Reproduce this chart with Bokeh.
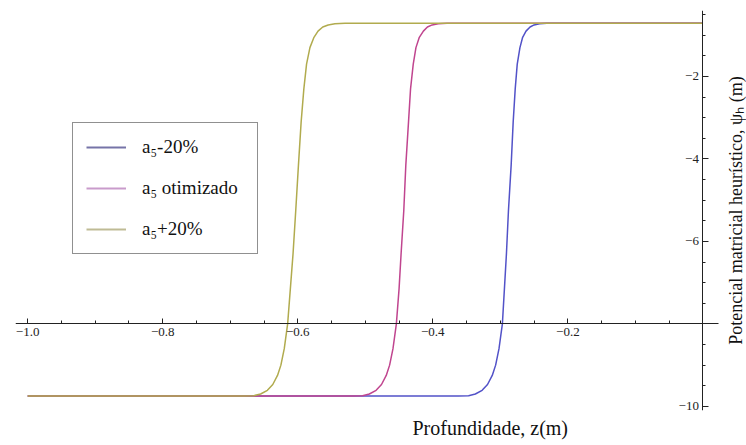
from bokeh.embed import file_html
from bokeh.resources import INLINE
from bokeh.plotting import figure
from bokeh.models import (Range1d, LinearAxis, FixedTicker, CustomJSTickFormatter,
                          Legend, LegendItem, ColumnDataSource, Title)

# Heuristic matric potential (m) versus depth z (m) for three values of a5
z_minus = [-1.0, -0.362, -0.347, -0.337, -0.327, -0.319, -0.312, -0.307, -0.302, -0.297,
           -0.294, -0.291, -0.288, -0.284, -0.281, -0.278, -0.275, -0.271, -0.267, -0.262,
           -0.256, -0.250, -0.242, -0.231, 0.0]
psi_minus = [-9.75, -9.75, -9.74, -9.70, -9.61, -9.47, -9.25, -9.00, -8.60, -8.00,
             -7.15, -6.30, -5.25, -4.15, -3.10, -2.30, -1.70, -1.30, -1.05, -0.90,
             -0.80, -0.75, -0.72, -0.71, -0.71]

z_opt = [-1.0, -0.519, -0.504, -0.494, -0.484, -0.476, -0.469, -0.464, -0.459, -0.454,
         -0.450, -0.447, -0.443, -0.440, -0.436, -0.433, -0.429, -0.425, -0.420, -0.414,
         -0.408, -0.401, -0.392, -0.379, 0.0]
psi_opt = [-9.75, -9.75, -9.74, -9.70, -9.61, -9.47, -9.25, -9.00, -8.60, -8.00,
           -7.15, -6.30, -5.25, -4.15, -3.10, -2.30, -1.70, -1.30, -1.05, -0.90,
           -0.80, -0.75, -0.72, -0.71, -0.71]

z_plus = [-1.0, -0.680, -0.665, -0.655, -0.645, -0.637, -0.630, -0.625, -0.620, -0.615,
          -0.611, -0.607, -0.603, -0.599, -0.595, -0.591, -0.587, -0.582, -0.576, -0.570,
          -0.563, -0.555, -0.545, -0.530, 0.0]
psi_plus = [-9.75, -9.75, -9.74, -9.70, -9.61, -9.47, -9.25, -9.00, -8.60, -8.00,
            -7.15, -6.30, -5.25, -4.15, -3.10, -2.30, -1.70, -1.30, -1.05, -0.90,
            -0.80, -0.75, -0.72, -0.71, -0.71]

series_labels = ["a₅-20%", "a₅ otimizado", "a₅+20%"]

x_major = [-1.0, -0.8, -0.6, -0.4, -0.2, 0.0]
x_minor = [round(-1.0 + 0.05 * k, 2) for k in range(21)]
y_major = [-10, -8, -6, -4, -2]
y_minor = [round(-10.0 + 0.5 * k, 1) for k in range(20)]

curve_colors = ["#5252c8", "#c0458f", "#b1ab4e"]
legend_colors = ["#7674a8", "#c99bcb", "#bfbb95"]
serif = "Times New Roman"

# The frame reaches the right edge so the vertical title can sit inside it;
# the horizontal axis itself stops just past z = 0.
p = figure(width=746, height=445, output_backend="svg", toolbar_location=None,
           x_range=Range1d(-1.018, 0.0645), y_range=Range1d(-10.1, -0.4),
           x_axis_location=None, y_axis_location=None,
           min_border_left=15, min_border_right=0, min_border_top=10, min_border_bottom=35)
p.outline_line_color = None
p.background_fill_color = "white"
p.border_fill_color = "white"
p.grid.visible = False

# Axes drawn through the plot: horizontal at psi = -8, vertical at z = 0
xaxis = LinearAxis(fixed_location=-8, bounds=(-1.018, 0.023),
                   ticker=FixedTicker(ticks=x_major, minor_ticks=x_minor),
                   formatter=CustomJSTickFormatter(code="""
                       if (Math.abs(tick) < 1e-9) return '';
                       return tick.toFixed(1).replace('-', '\u2212');"""))
xaxis.major_tick_in = 5
xaxis.major_tick_out = 0
xaxis.minor_tick_in = 3
xaxis.minor_tick_out = 0
xaxis.major_label_standoff = 4
xaxis.axis_line_color = "#222222"
xaxis.major_tick_line_color = "#222222"
xaxis.minor_tick_line_color = "#222222"
xaxis.major_label_text_font = serif
xaxis.major_label_text_font_size = "13px"
xaxis.major_label_text_color = "#222222"
p.add_layout(xaxis, "below")

yaxis = LinearAxis(fixed_location=0,
                   ticker=FixedTicker(ticks=y_major, minor_ticks=y_minor),
                   formatter=CustomJSTickFormatter(code="""
                       if (Math.abs(tick + 8) < 1e-9) return '';
                       return tick.toFixed(0).replace('-', '\u2212');"""))
yaxis.major_tick_in = 6
yaxis.major_tick_out = 0
yaxis.minor_tick_in = 3
yaxis.minor_tick_out = 0
yaxis.major_label_standoff = 4
yaxis.axis_line_color = "#222222"
yaxis.major_tick_line_color = "#222222"
yaxis.minor_tick_line_color = "#222222"
yaxis.major_label_text_font = serif
yaxis.major_label_text_font_size = "13px"
yaxis.major_label_text_color = "#222222"
p.add_layout(yaxis, "left")

# Curves (the +20% curve drawn last so it sits on top)
for zs, ps, c in [(z_minus, psi_minus, curve_colors[0]),
                  (z_opt, psi_opt, curve_colors[1]),
                  (z_plus, psi_plus, curve_colors[2])]:
    p.line(zs, ps, line_color=c, line_width=1.5)

# Legend swatches (renderers holding a single NaN point, so only the key shows)
nan = float("nan")
swatches = []
for c in legend_colors:
    r = p.line(x="x", y="y", source=ColumnDataSource(dict(x=[nan], y=[nan])),
               line_color=c, line_width=2)
    swatches.append(r)

legend = Legend(items=[LegendItem(label=lbl, renderers=[r])
                       for lbl, r in zip(series_labels, swatches)],
                location=(57, 156))
legend.border_line_color = "#222222"
legend.border_line_width = 1.5
legend.background_fill_alpha = 1
legend.label_text_font = serif
legend.label_text_font_size = "19px"
legend.label_text_color = "#111111"
legend.glyph_width = 40
legend.glyph_height = 20
legend.label_height = 20
legend.label_width = 102
legend.spacing = 19
legend.padding = 13
legend.margin = 0
legend.label_standoff = 16
p.add_layout(legend)

# Axis titles
p.add_layout(Title(text="Profundidade, z(m)", align="left", offset=397, standoff=8,
                   text_font=serif, text_font_size="20px", text_color="#111111",
                   text_font_style="normal"), "below")

# Vertical title: a tick-less axis pinned at the right edge, label reading upward
ylab = LinearAxis(fixed_location=0.064, ticker=FixedTicker(ticks=[]),
                  axis_label="Potencial matricial heurístico, ψₕ (m)")
ylab.axis_line_color = None
ylab.major_tick_out = 0
ylab.major_tick_in = 0
ylab.minor_tick_out = 0
ylab.minor_tick_in = 0
ylab.major_label_standoff = 0
ylab.axis_label_standoff = 1
ylab.axis_label_text_font = serif
ylab.axis_label_text_font_style = "normal"
ylab.axis_label_text_font_size = "18px"
ylab.axis_label_text_color = "#111111"
p.add_layout(ylab, "left")

open("out.html", "w").write(file_html(p, INLINE))
